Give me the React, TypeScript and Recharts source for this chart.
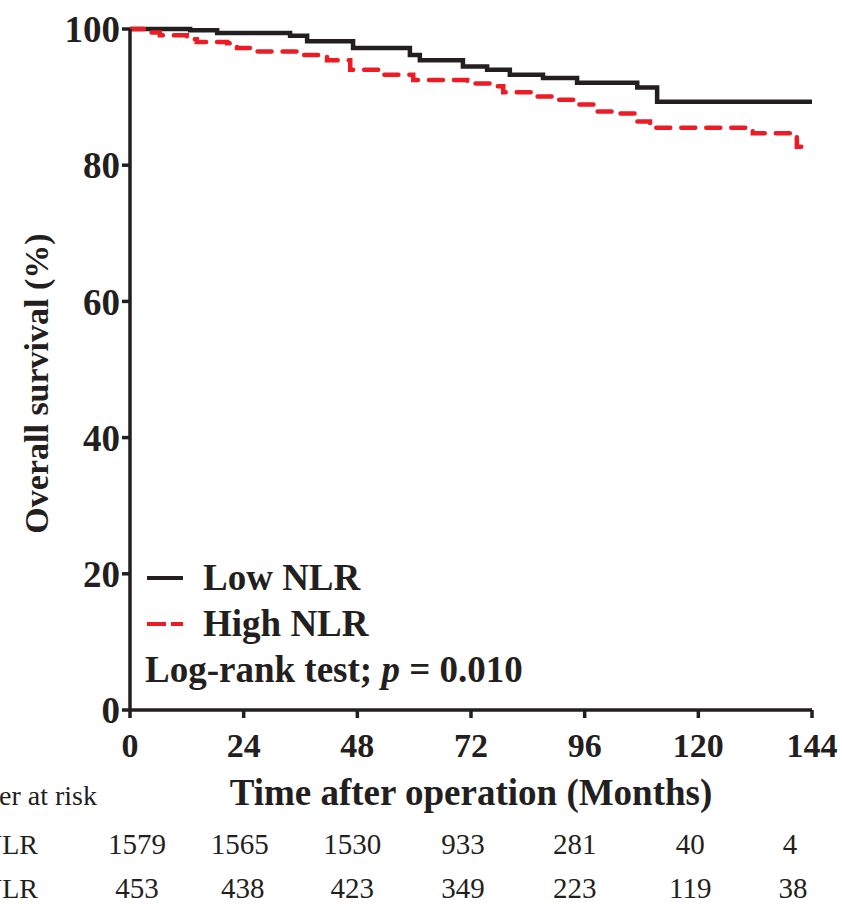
import { LineChart, Line, XAxis, YAxis, Legend, Label } from 'recharts'

const months = [0, 24, 48, 72, 96, 120, 144]
const survivalTicks = [0, 20, 40, 60, 80, 100]

const lowNlr = [
  { month: 0, value: 100 },
  { month: 12.7, value: 99.8 },
  { month: 18.4, value: 99.4 },
  { month: 33.8, value: 99.0 },
  { month: 37.4, value: 98.2 },
  { month: 47.1, value: 97.2 },
  { month: 59.1, value: 96.2 },
  { month: 61.2, value: 95.4 },
  { month: 70.3, value: 94.5 },
  { month: 75.4, value: 94.0 },
  { month: 80.2, value: 93.3 },
  { month: 87.2, value: 92.8 },
  { month: 94.4, value: 92.1 },
  { month: 107.1, value: 91.4 },
  { month: 111.3, value: 89.3 },
  { month: 144, value: 89.3 },
]

const highNlr = [
  { month: 0, value: 100 },
  { month: 3, value: 99.5 },
  { month: 6.3, value: 99.1 },
  { month: 12, value: 98.5 },
  { month: 14.1, value: 98.1 },
  { month: 20.5, value: 97.9 },
  { month: 22.6, value: 97.2 },
  { month: 26, value: 96.7 },
  { month: 35.3, value: 96.2 },
  { month: 41.6, value: 95.4 },
  { month: 46.5, value: 94.0 },
  { month: 52.8, value: 93.3 },
  { month: 59.8, value: 92.5 },
  { month: 71.2, value: 92.0 },
  { month: 76.6, value: 91.6 },
  { month: 78.8, value: 90.7 },
  { month: 85.1, value: 90.1 },
  { month: 90.2, value: 89.6 },
  { month: 94.4, value: 88.9 },
  { month: 98.6, value: 87.9 },
  { month: 102.8, value: 87.6 },
  { month: 107.1, value: 86.4 },
  { month: 109.8, value: 85.5 },
  { month: 131.5, value: 84.7 },
  { month: 140.8, value: 82.7 },
  { month: 143, value: 82.7 },
]

const lowAtRisk = [1579, 1565, 1530, 933, 281, 40, 4]
const highAtRisk = [453, 438, 423, 349, 223, 119, 38]

// small nudges so the at-risk numbers sit like in the original table
const lowShift = [7, -4, -5, -8, -10, -8, -22]
const highShift = [7, -1, -5, -8, -10, -8, -19]

const serif = 'Liberation Serif, Times New Roman, serif'
const ink = '#231f20'
const red = '#ed1c24'

// month tick plus the two "number at risk" rows underneath it
const MonthTick = (props: any) => {
  const { x, y, payload, index } = props
  const i = months.indexOf(payload.value)
  return (
    <g fontFamily={serif} fill={ink} textAnchor="middle">
      <text x={x} y={y} dy="0.71em" fontSize={34} fontWeight="bold">
        {payload.value}
      </text>
      <text x={x + lowShift[index]} y={y + 100} dy="0.71em" fontSize={29}>
        {lowAtRisk[i]}
      </text>
      <text x={x + highShift[index]} y={y + 144} dy="0.71em" fontSize={29}>
        {highAtRisk[i]}
      </text>
    </g>
  )
}

const LegendBox = () => {
  const row = { height: 46, lineHeight: '46px', display: 'flex', alignItems: 'center' }
  return (
    <div style={{ fontFamily: serif, fontWeight: 'bold', fontSize: 37, color: ink }}>
      <div style={row}>
        <svg width={58} height={46}>
          <line x1={2} x2={38} y1={23} y2={23} stroke={ink} strokeWidth={4} />
        </svg>
        <span>Low NLR</span>
      </div>
      <div style={row}>
        <svg width={58} height={46}>
          <line x1={2} x2={38} y1={23} y2={23} stroke={red} strokeWidth={4} strokeDasharray="19 5" />
        </svg>
        <span>High NLR</span>
      </div>
      <div style={row}>
        <span>
          Log-rank test; <i>p</i> = 0.010
        </span>
      </div>
    </div>
  )
}

export default function App() {
  return (
    <div style={{ position: 'absolute', left: 0, top: 0, width: 842, height: 904, overflow: 'hidden' }}>
      <LineChart width={842} height={904} margin={{ top: 29, right: 30, left: 0, bottom: 1 }}>
        <XAxis
          type="number"
          dataKey="month"
          domain={[0, 144]}
          ticks={months}
          interval={0}
          allowDataOverflow
          height={193}
          stroke={ink}
          strokeWidth={3.5}
          tickSize={8}
          tickMargin={15}
          tick={<MonthTick />}
        >
          <Label
            value="Time after operation (Months)"
            position="insideBottom"
            offset={98}
            style={{ fontSize: 37, fontWeight: 'bold', fill: ink, fontFamily: serif }}
          />
        </XAxis>
        <YAxis
          type="number"
          domain={[0, 100]}
          ticks={survivalTicks}
          interval={0}
          width={130}
          stroke={ink}
          strokeWidth={3.5}
          tickSize={8}
          tick={{ fontSize: 37, fontWeight: 'bold', fill: ink, fontFamily: serif }}
        >
          <Label
            value="Overall survival (%)"
            angle={-90}
            position="insideLeft"
            offset={36}
            dy={14}
            style={{ fontSize: 34, fontWeight: 'bold', fill: ink, fontFamily: serif, textAnchor: 'middle' }}
          />
        </YAxis>
        <Line
          data={lowNlr}
          dataKey="value"
          name="Low NLR"
          type="stepAfter"
          stroke={ink}
          strokeWidth={4.5}
          dot={false}
          isAnimationActive={false}
        />
        <Line
          data={highNlr}
          dataKey="value"
          name="High NLR"
          type="stepAfter"
          stroke={red}
          strokeWidth={4.5}
          strokeDasharray="14 11"
          strokeLinecap="round"
          dot={false}
          isAnimationActive={false}
        />
        <Legend
          layout="vertical"
          align="center"
          verticalAlign="middle"
          content={<LegendBox />}
          wrapperStyle={{ position: 'absolute', left: 145, top: 555, width: 420 }}
        />
        <g fontFamily={serif} fontSize={28} fill={ink} textAnchor="end">
          <text x={97} y={805}>Number at risk</text>
          <text x={38} y={854}>Low NLR</text>
          <text x={38} y={898}>High NLR</text>
        </g>
      </LineChart>
    </div>
  )
}
